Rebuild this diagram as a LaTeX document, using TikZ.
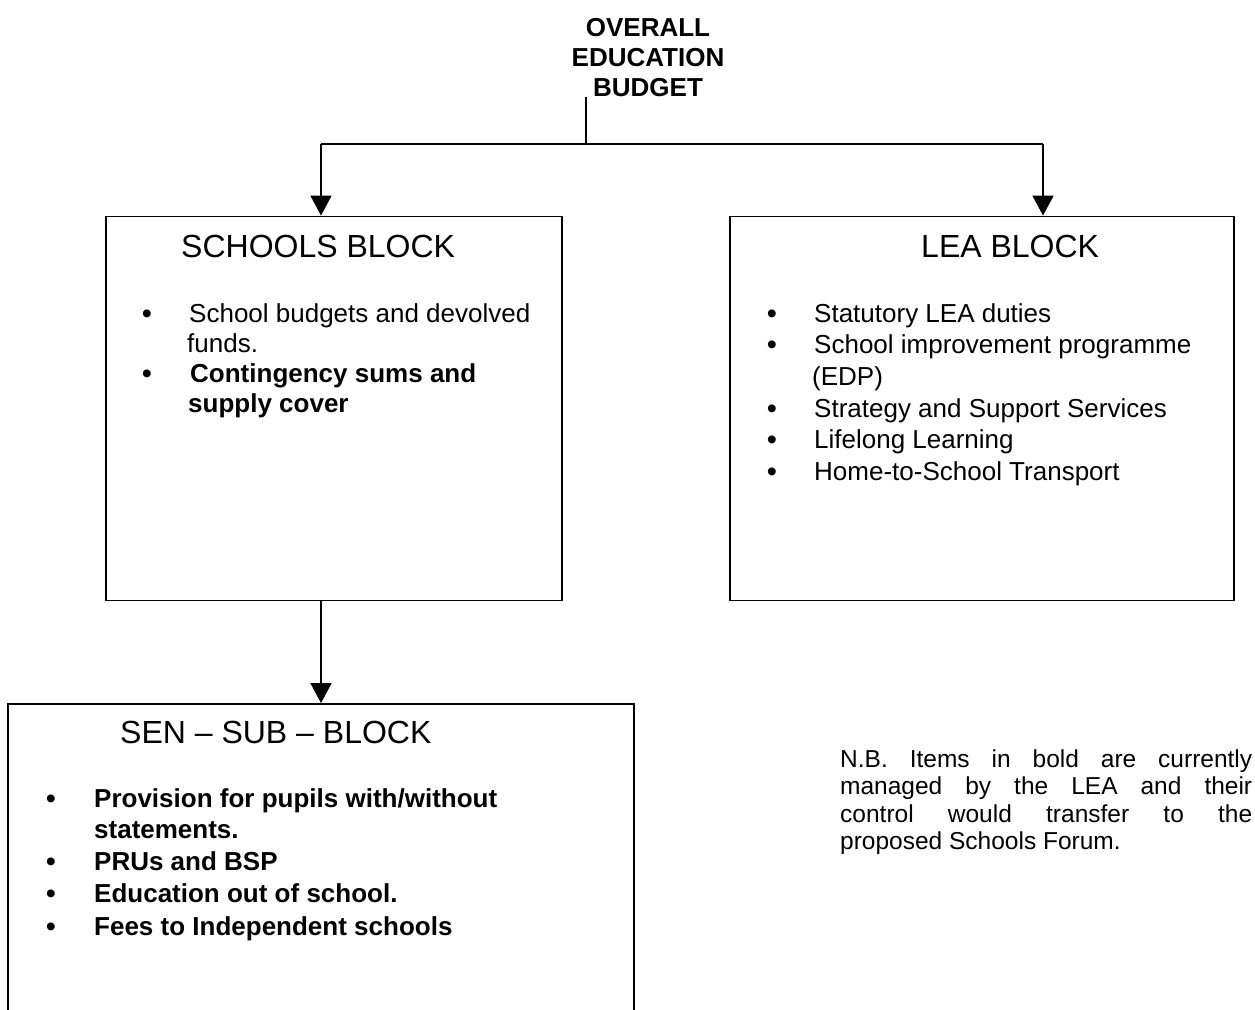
\documentclass[tikz,border=0pt]{standalone}
\usepackage{fontspec}
\setmainfont{Liberation Sans}
\usetikzlibrary{arrows.meta}
\begin{document}
\begin{tikzpicture}[x=1pt,y=-1pt,
  frame/.style={draw=black, line width=1.9pt, rectangle, inner sep=0pt},
  conn/.style={line width=1.8pt},
  arr/.style={conn, -{Triangle[width=21pt,length=20pt]}},
  head/.style={font=\fontsize{32}{38}\selectfont, inner sep=0pt, anchor=base west},
  itm/.style={font=\fontsize{26}{31}\selectfont, inner sep=0pt, anchor=base west},
  bitm/.style={font=\fontsize{26}{31}\selectfont\bfseries, inner sep=0pt, anchor=base west},
  bul/.style={font=\fontsize{29}{34}\selectfont, inner sep=0pt, anchor=base, yshift=-1pt},
  note/.style={font=\fontsize{24.5}{27.5}\selectfont, text width=412pt, align=justify, inner sep=0pt, anchor=north west},
  ttl/.style={font=\fontsize{26}{30}\selectfont\bfseries, align=center, inner sep=0pt, anchor=north}]
\useasboundingbox (0,0) rectangle (1255,1009);
\clip (0,0) rectangle (1255,1009);

% title
\node[ttl] (title) at (648,18.4) {OVERALL\\EDUCATION\\BUDGET};

% boxes
\node[frame, minimum width=456pt, minimum height=384pt] (schools) at (334,408.5) {};
\node[frame, minimum width=504pt, minimum height=384pt] (lea) at (982,408.5) {};
\node[frame, minimum width=626pt, minimum height=320pt] (sen) at (321,864) {};

% connectors
\coordinate (jn) at (586,144);
\coordinate (sa) at (321,144);
\coordinate (la) at (1043,144);
\draw[conn] (title.south -| jn) -- (jn);
\draw[conn] (sa) -- (la);
\draw[arr] (sa) -- (sa |- schools.north);
\draw[arr] (la) -- (la |- lea.north);
\draw[arr] (sa |- schools.south) -- (sa |- sen.north);

% schools block
\node[head] (sh) at (181,257) {SCHOOLS BLOCK};
\node[bul] (sb1) at (147,322) {•};
\node[itm] (s1a) at (189,322) {School budgets and devolved};
\node[itm] (s1b) at (187,352) {funds.};
\node[bul] (sb2) at (147,382) {•};
\node[bitm] (s2a) at (190,382) {Contingency sums and};
\node[bitm] (s2b) at (188,412) {supply cover};

% LEA block
\node[head] (lh) at (921,257) {LEA BLOCK};
\node[bul] (lb1) at (772,322) {•};
\node[itm] (l1) at (814,322) {Statutory LEA duties};
\node[bul] (lb2) at (772,353) {•};
\node[itm] (l2a) at (814,353) {School improvement programme};
\node[itm] (l2b) at (812,385) {(EDP)};
\node[bul] (lb3) at (772,417) {•};
\node[itm] (l3) at (814,417) {Strategy and Support Services};
\node[bul] (lb4) at (772,448) {•};
\node[itm] (l4) at (814,448) {Lifelong Learning};
\node[bul] (lb5) at (772,480) {•};
\node[itm] (l5) at (814,480) {Home-to-School Transport};

% SEN sub-block
\node[head] (nh) at (120,743) {SEN – SUB – BLOCK};
\node[bul] (nb1) at (51,807) {•};
\node[bitm] (n1a) at (94,807) {Provision for pupils with/without};
\node[bitm] (n1b) at (94,838) {statements.};
\node[bul] (nb2) at (51,870) {•};
\node[bitm] (n2) at (94,870) {PRUs and BSP};
\node[bul] (nb3) at (51,902) {•};
\node[bitm] (n3) at (94,902) {Education out of school.};
\node[bul] (nb4) at (51,935) {•};
\node[bitm] (n4) at (94,935) {Fees to Independent schools};

% note
\node[note] (nb) at (840,749.5) {\hyphenpenalty=10000 N.B. Items in bold are currently\linebreak managed by the LEA and their\linebreak control would transfer to the\linebreak proposed Schools Forum.};
\end{tikzpicture}
\end{document}
